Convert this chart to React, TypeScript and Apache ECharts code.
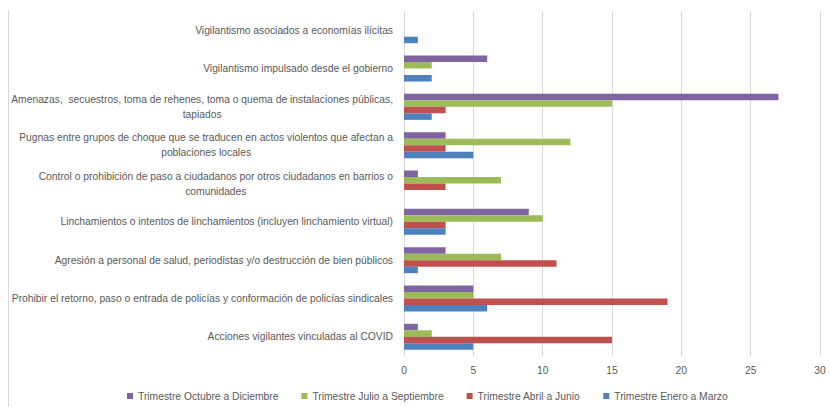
import React, { useEffect, useRef } from "react";
import * as echarts from "echarts";

const categories = [
  "Vigilantismo asociados a economías ilícitas",
  "Vigilantismo impulsado desde el gobierno",
  "Amenazas,  secuestros, toma de rehenes, toma o quema de instalaciones públicas,\ntapiados",
  "Pugnas entre grupos de choque que se traducen en actos violentos que afectan a\npoblaciones locales",
  "Control o prohibición de paso a ciudadanos por otros ciudadanos en barrios o\ncomunidades",
  "Linchamientos o intentos de linchamientos (incluyen linchamiento virtual)",
  "Agresión a personal de salud, periodistas y/o destrucción de bien públicos",
  "Prohibir el retorno, paso o entrada de policías y conformación de policías sindicales",
  "Acciones vigilantes vinculadas al COVID",
];

const seriesNames = [
  "Trimestre Octubre a Diciembre",
  "Trimestre Julio a Septiembre",
  "Trimestre Abril a Junio",
  "Trimestre Enero a Marzo",
];

const octDic = [0, 6, 27, 3, 1, 9, 3, 5, 1];
const julSep = [0, 2, 15, 12, 7, 10, 7, 5, 2];
const abrJun = [0, 0, 3, 3, 3, 3, 11, 19, 15];
const eneMar = [1, 2, 2, 5, 0, 3, 1, 6, 5];

const colors = ["#8064A2", "#9BBB59", "#C0504D", "#4F81BD"];
const FONT = "'Liberation Sans', Arial, sans-serif";
const FS = 10.3;

export default function App() {
  const ref = useRef<HTMLDivElement>(null);
  useEffect(() => {
    if (!ref.current) return;
    const chart = echarts.init(ref.current, undefined, { renderer: "svg" });
    const values = [octDic, julSep, abrJun, eneMar];
    chart.setOption({
      animation: false,
      backgroundColor: "#ffffff",
      grid: { left: 404, right: 10, top: 11, bottom: 51, containLabel: false, outerBoundsMode: "none" },
      legend: {
        data: seriesNames,
        left: 122,
        top: 386,
        itemWidth: 6,
        itemHeight: 6,
        itemGap: 23,
        icon: "rect",
        textStyle: { color: "#595959", fontSize: FS, fontFamily: FONT },
      },
      xAxis: {
        type: "value",
        min: 0,
        max: 30,
        interval: 5,
        axisLine: { show: false },
        axisTick: { show: false },
        splitLine: { show: true, lineStyle: { color: "#D9D9D9", width: 1 } },
        axisLabel: { color: "#595959", fontSize: FS, fontFamily: FONT, margin: 9 },
      },
      yAxis: {
        type: "category",
        inverse: true,
        data: categories,
        axisLine: { show: true, lineStyle: { color: "#D9D9D9" } },
        axisTick: { show: false },
        axisLabel: {
          margin: 11,
          fontSize: FS,
          fontFamily: FONT,
          color: "#595959",
          lineHeight: 15,
          formatter: (v: string) => `{c|${v}}`,
          rich: {
            c: { align: "center", fontSize: FS, fontFamily: FONT, color: "#595959", lineHeight: 15 },
          },
        },
      },
      graphic: [
        {
          type: "line",
          shape: { x1: 8.5, y1: 10, x2: 8.5, y2: 407 },
          style: { stroke: "#D9D9D9", lineWidth: 1 },
        },
      ],
      series: seriesNames.map((name, i) => ({
        name,
        type: "bar",
        data: values[i],
        itemStyle: { color: colors[i] },
        barGap: "0%",
        barCategoryGap: "32%",
      })),
    });
    return () => chart.dispose();
  }, []);
  return <div ref={ref} style={{ width: 830, height: 407, position: "absolute", left: 0, top: 0 }} />;
}
